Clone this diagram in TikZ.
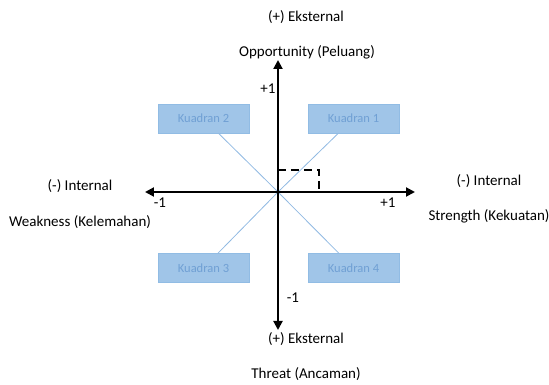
\documentclass[tikz,border=0pt]{standalone}
\usepackage{fontspec}
\setmainfont{Carlito}
\usetikzlibrary{arrows.meta}

\definecolor{kuadfill}{RGB}{160,197,232}
\definecolor{kuaddraw}{RGB}{145,188,228}
\definecolor{kuadtext}{RGB}{112,160,212}
\definecolor{garis}{RGB}{145,186,226}

\begin{document}
\begin{tikzpicture}[x=1pt, y=1pt,
  teks/.style={font=\fontsize{15}{17}\selectfont},
  kuadran/.style={draw=kuaddraw, fill=kuadfill, text=kuadtext, minimum width=91pt,
    minimum height=29pt, inner sep=0pt, font=\fontsize{12.5}{14}\selectfont},
  sumbu/.style={line width=2pt, {Triangle[length=9pt,width=9pt]}-{Triangle[length=9pt,width=9pt]}}]

  \useasboundingbox (-278,-193) rectangle (271,192);

  % --- Axes ---
  \coordinate (O) at (0,0);
  \coordinate (atas) at (0,132);
  \coordinate (bawah) at (0,-138);
  \coordinate (kiri) at (-133,0);
  \coordinate (kanan) at (137,0);

  % --- Quadrant boxes ---
  \node[kuadran] (k2) at (-74.5,73.5) {Kuadran 2};
  \node[kuadran] (k1) at (75.5,73.5) {Kuadran 1};
  \node[kuadran] (k3) at (-74.5,-76) {Kuadran 3};
  \node[kuadran] (k4) at (75.5,-76) {Kuadran 4};

  % --- Diagonal lines ---
  \draw[garis, line width=0.8pt] (O) -- (k1);
  \draw[garis, line width=0.8pt] (O) -- (k2);
  \draw[garis, line width=0.8pt] (O) -- (k3);
  \draw[garis, line width=0.8pt] (O) -- (k4);

  \draw[sumbu] (bawah) -- (atas);
  \draw[sumbu] (kiri) -- (kanan);

  % --- Position point ---
  \coordinate (titik) at (41,22);
  \draw[line width=2pt, dash pattern=on 8pt off 5pt] (O |- titik) -- (titik) -- (titik |- O);

  % --- Labels ---
  \node[teks] (eksatas) at (28,175) {(+) Eksternal};
  \node[teks] (peluang) at (29,140) {Opportunity (Peluang)};
  \node[teks] (plusatas) at (-10,103) {+1};
  \node[teks] (intkiri) at (-198,6) {(-) Internal};
  \node[teks] (lemah) at (-198,-30) {Weakness (Kelemahan)};
  \node[teks] (minkiri) at (-118,-11) {-1};
  \node[teks] (pluskanan) at (110,-11) {+1};
  \node[teks] (intkanan) at (211,11) {(-) Internal};
  \node[teks] (kuat) at (211,-24) {Strength (Kekuatan)};
  \node[teks] (minbawah) at (15,-106) {-1};
  \node[teks] (eksbawah) at (28,-147) {(+) Eksternal};
  \node[teks] (ancaman) at (28,-182) {Threat (Ancaman)};

\end{tikzpicture}
\end{document}
